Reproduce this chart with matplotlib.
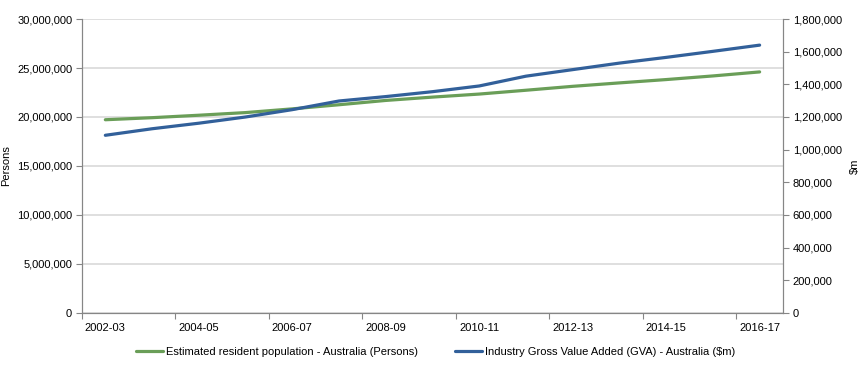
import numpy as np
import matplotlib.pyplot as plt
from matplotlib.ticker import FuncFormatter, FixedLocator

# ---------------- DATA ----------------
years = ["2002-03", "2003-04", "2004-05", "2005-06", "2006-07", "2007-08", "2008-09",
         "2009-10", "2010-11", "2011-12", "2012-13", "2013-14", "2014-15", "2015-16", "2016-17"]
population = [19720000, 19930000, 20180000, 20450000, 20830000, 21250000, 21690000,
              22030000, 22340000, 22730000, 23130000, 23480000, 23820000, 24190000, 24600000]
gva = [1088000, 1128000, 1162000, 1200000, 1245000, 1298000, 1325000,
       1355000, 1390000, 1450000, 1490000, 1530000, 1565000, 1602000, 1640000]

label_pop = "Estimated resident population - Australia (Persons)"
label_gva = "Industry Gross Value Added (GVA) - Australia ($m)"

GREEN = "#6a9e58"
BLUE = "#32609a"
AXIS_GREY = "#868686"
GRID_GREY = "#d9d9d9"

plt.rcParams["font.family"] = ["Liberation Sans", "DejaVu Sans"]
plt.rcParams["font.size"] = 8

fig = plt.figure(figsize=(8.61, 3.69), dpi=100)
ax = fig.add_axes([0.0952, 0.1518, 0.8142, 0.7967])
ax2 = ax.twinx()

x = np.arange(len(years))
ax.plot(x, population, color=GREEN, lw=2.3, label=label_pop, solid_capstyle="round")
ax2.plot(x, gva, color=BLUE, lw=2.3, label=label_gva, solid_capstyle="round")

ax.set_xlim(-0.5, len(years) - 0.5)
ax.set_ylim(0, 30000000)
ax2.set_ylim(0, 1800000)
ax.set_yticks(np.arange(0, 30000001, 5000000))
ax2.set_yticks(np.arange(0, 1800001, 200000))
fmt = FuncFormatter(lambda v, p: f"{int(v):,}")
ax.yaxis.set_major_formatter(fmt)
ax2.yaxis.set_major_formatter(fmt)

# category boundaries as tick marks, labels centred on every second category
ax.xaxis.set_major_locator(FixedLocator(np.arange(-0.5, len(years) - 1, 2)))
ax.xaxis.set_minor_locator(FixedLocator(x[::2]))
ax.set_xticklabels([], minor=False)
ax.set_xticklabels(years[::2], minor=True)
ax.tick_params(axis="x", which="major", length=4, color=AXIS_GREY, direction="out")
ax.tick_params(axis="x", which="minor", length=0, pad=7)

ax.tick_params(axis="y", length=4, color=AXIS_GREY, pad=3)
ax2.tick_params(axis="y", length=4, color=AXIS_GREY, pad=3)

ax.grid(axis="y", color=GRID_GREY, lw=1.2)
ax.set_axisbelow(True)

for a in (ax, ax2):
    a.spines["top"].set_visible(False)
    for s in ("left", "right", "bottom"):
        a.spines[s].set_color(AXIS_GREY)

ax.set_ylabel("Persons", labelpad=4)
ax2.set_ylabel("$m", labelpad=6)

h1, l1 = ax.get_legend_handles_labels()
h2, l2 = ax2.get_legend_handles_labels()
fig.legend(h1 + h2, l1 + l2, loc="center", bbox_to_anchor=(0.506, 0.047), ncol=2,
           frameon=False, handlelength=2.4, handletextpad=0.25, columnspacing=3.4)

fig.savefig("out.png", dpi=100)
